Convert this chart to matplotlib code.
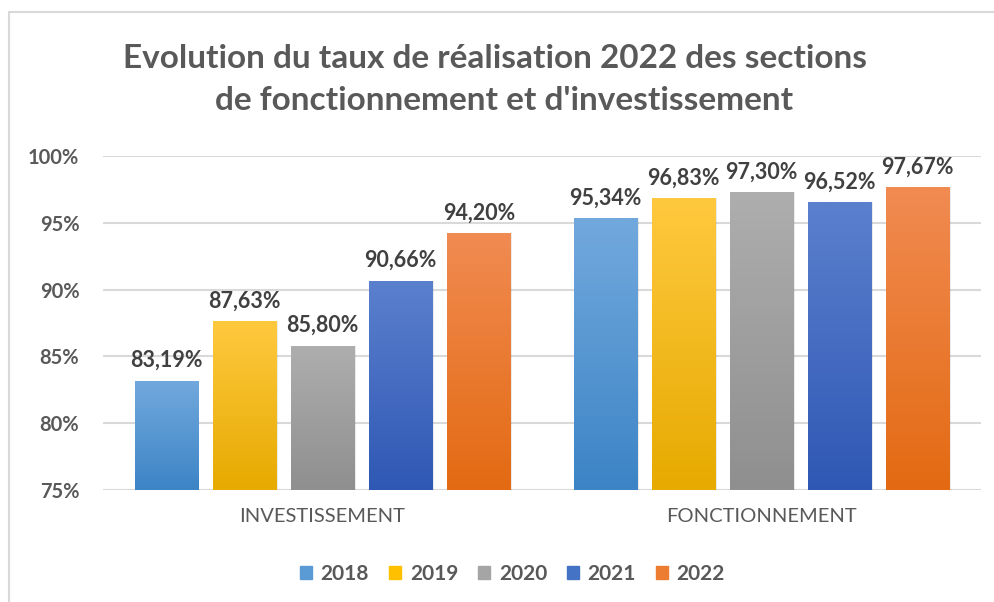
import matplotlib.pyplot as plt
import matplotlib.patches as mpatches
import numpy as np
from matplotlib.colors import LinearSegmentedColormap

categories = ["INVESTISSEMENT", "FONCTIONNEMENT"]
years = ["2018", "2019", "2020", "2021", "2022"]
values = {
    "2018": [83.19, 95.34],
    "2019": [87.63, 96.83],
    "2020": [85.80, 97.30],
    "2021": [90.66, 96.52],
    "2022": [94.20, 97.67],
}
yticks = [75, 80, 85, 90, 95, 100]

# main colour (legend) and gradient (top, bottom) for each year
colors = ["#5B9BD5", "#FFC000", "#A5A5A5", "#4472C4", "#ED7D31"]
grads = [("#72A9DD", "#3C84C6"), ("#FFC93F", "#E6AA00"), ("#AEAEAE", "#8F8F8F"),
         ("#5B80CE", "#2F58B4"), ("#F18B52", "#E36A12")]

txt = "#595959"
plt.rcParams['font.family'] = ['Lato', 'DejaVu Sans']

fig = plt.figure(figsize=(9.95, 6.02), dpi=100)
fig.patches.append(mpatches.Rectangle((0.009, -0.02), 1.0, 1.0 - 12 / 602 + 0.02,
                                      transform=fig.transFigure, fill=False,
                                      edgecolor="#D9D9D9", lw=1.5))
ax = fig.add_axes([0.1035, 0.186, 0.8825, 0.555])

x = np.arange(len(categories))
width = 0.1435
step = 0.178
grad = np.linspace(0, 1, 256).reshape(-1, 1)

for i, yr in enumerate(years):
    bars = ax.bar(x + (i - 2) * step, values[yr], width, bottom=0, color=colors[i],
                  label=yr, zorder=2, edgecolor="none")
    cmap = LinearSegmentedColormap.from_list("g%d" % i, [grads[i][1], grads[i][0]])
    for b, v in zip(bars, values[yr]):
        bx, bw = b.get_x(), b.get_width()
        im = ax.imshow(grad, extent=[bx, bx + bw, 75, v], origin="lower", cmap=cmap,
                       aspect="auto", zorder=3)
        im.set_clip_path(b)
        # soft shadow
        ax.add_patch(mpatches.Rectangle((bx + 0.004, 75), bw, v - 75, facecolor="#000000",
                                        alpha=0.08, zorder=1.9, edgecolor="none"))
        ax.annotate(f"{v:.2f}%".replace(".", ","), (bx + bw / 2, v),
                    xytext=(0, 7), textcoords="offset points", ha="center", va="bottom",
                    fontsize=15.5, fontweight="bold", color="#404040", zorder=4)

ax.set_xlim(-0.5, 1.5)
ax.set_ylim(75, 100)
ax.set_yticks(yticks)
ax.set_yticklabels([f"{t}%" for t in yticks], fontsize=14.5, fontweight="bold", color=txt)
ax.set_xticks(x)
ax.set_xticklabels(categories, fontsize=14.5, color=txt)
ax.tick_params(axis="y", length=0, pad=17)
ax.tick_params(axis="x", length=0, pad=13)
ax.grid(axis="y", color="#D9D9D9", lw=1.5, zorder=0)
ax.set_axisbelow(True)
for s in ax.spines.values():
    s.set_visible(False)

fig.text(0.497, 1 - 58 / 602, "Evolution du taux de réalisation 2022 des sections",
         ha="center", va="center", fontsize=24, fontweight="bold", color=txt)
fig.text(0.507, 1 - 101 / 602, "de fonctionnement et d'investissement",
         ha="center", va="center", fontsize=24, fontweight="bold", color=txt)

handles = [mpatches.Patch(color=c, label=y) for c, y in zip(colors, years)]
fig.legend(handles=handles, loc="center", bbox_to_anchor=(0.515, 1 - 574 / 602), ncol=5,
           frameon=False, handlelength=0.6, handleheight=0.6, handletextpad=0.4,
           columnspacing=0.95, prop={"size": 15, "weight": "bold"}, labelcolor=txt)

fig.savefig("out.png", dpi=100)
